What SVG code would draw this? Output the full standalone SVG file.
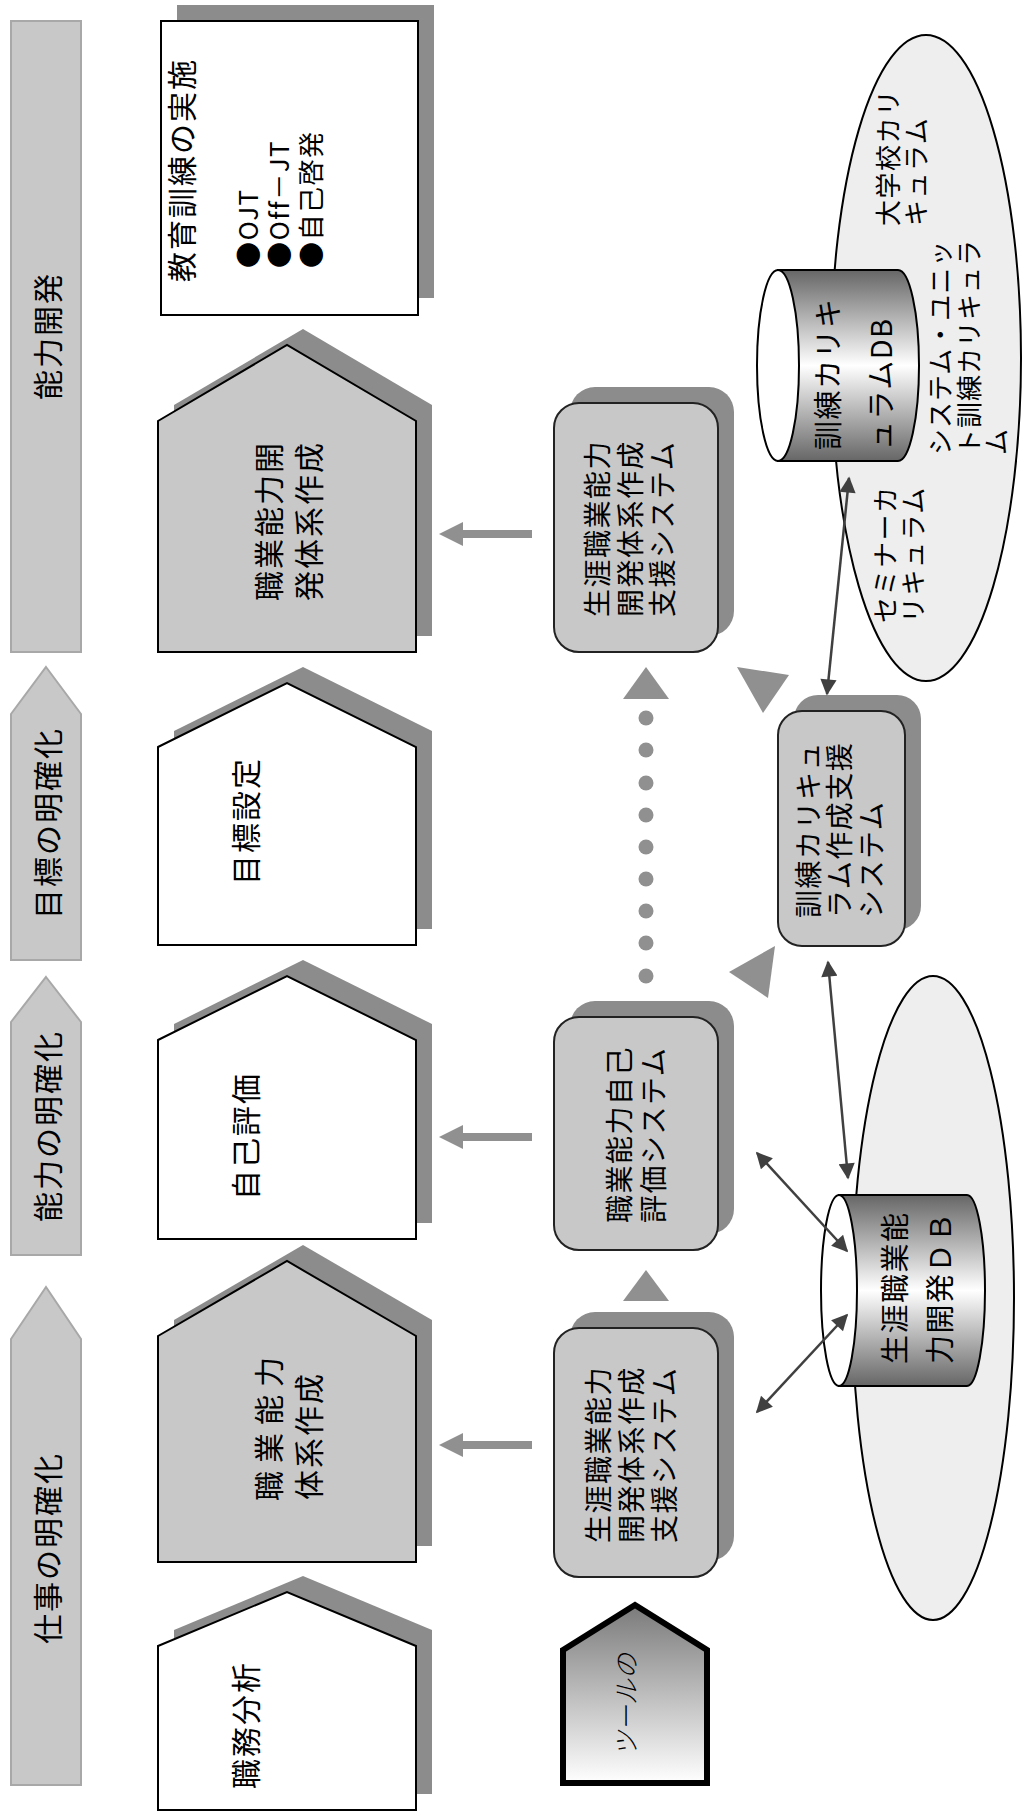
<svg xmlns="http://www.w3.org/2000/svg" width="1022" height="1814" viewBox="0 0 1022 1814">
<defs>
<style>
text{font-family:"Noto Sans CJK JP","Noto Sans",sans-serif;fill:#000;dominant-baseline:central}
.bar{fill:#c8c8c8;stroke:#a8a8a8;stroke-width:2}
.sh{fill:#8c8c8c}
.hw{fill:#ffffff;stroke:#000;stroke-width:2}
.hg{fill:#c8c8c8;stroke:#000;stroke-width:2}
.rb{fill:#c8c8c8;stroke:#222;stroke-width:2}
.t30{font-size:30px;letter-spacing:2px}
.t28{font-size:28px;letter-spacing:1.5px}
.t26{font-size:26px;letter-spacing:1.5px}
.ga{fill:#909090}
.gl{stroke:#909090;stroke-width:8}
.da{stroke:#404040;stroke-width:2.5;fill:none;marker-start:url(#ah);marker-end:url(#ah)}
.ell{fill:#eeeeee;stroke:#000;stroke-width:2}
.cyl{stroke:#000;stroke-width:2}
</style>
<marker id="ah" viewBox="0 0 10 10" refX="9" refY="5" markerWidth="7.5" markerHeight="6.5" orient="auto-start-reverse" markerUnits="strokeWidth">
<path d="M0,0 L10,5 L0,10 Z" fill="#404040"/>
</marker>
<linearGradient id="cg" x1="0" y1="0" x2="0" y2="1">
<stop offset="0" stop-color="#666666"/>
<stop offset="0.5" stop-color="#ffffff"/>
<stop offset="1" stop-color="#666666"/>
</linearGradient>
<linearGradient id="tg" x1="0" y1="0" x2="0" y2="1">
<stop offset="0" stop-color="#7a7a7a"/>
<stop offset="1" stop-color="#ffffff"/>
</linearGradient>
</defs>

<g id="phase-bars">
<g id="bar-nouryokukaihatsu">
<rect class="bar" x="11" y="21" width="70" height="631"/>
<text class="t30" x="46" y="336" text-anchor="middle" transform="rotate(-90 46 336)">能力開発</text>
</g>
<g id="bar-mokuhyou">
<polygon class="bar" points="46,667 81,714 81,960 11,960 11,714"/>
<text class="t30" x="46" y="823" text-anchor="middle" transform="rotate(-90 46 823)">目標の明確化</text>
</g>
<g id="bar-nouryoku">
<polygon class="bar" points="46,977 81,1022 81,1255 11,1255 11,1022"/>
<text class="t30" x="46" y="1126" text-anchor="middle" transform="rotate(-90 46 1126)">能力の明確化</text>
</g>
<g id="bar-shigoto">
<polygon class="bar" points="46,1287 81,1339 81,1785 11,1785 11,1339"/>
<text class="t30" x="46" y="1548" text-anchor="middle" transform="rotate(-90 46 1548)">仕事の明確化</text>
</g>
</g>

<g id="node-kyouiku">
<rect class="sh" x="177" y="5" width="257" height="293"/>
<rect class="hw" x="161" y="21" width="257" height="294"/>
<text class="t30" x="180" y="282" transform="rotate(-90 180 282)">教育訓練の実施</text>
<text class="t26" x="246" y="268" transform="rotate(-90 246 268)">●OJT</text>
<text class="t26" x="277" y="268" transform="rotate(-90 277 268)">●Off－JT</text>
<text class="t26" x="309" y="268" transform="rotate(-90 309 268)">●自己啓発</text>
</g>

<g id="node-taikei-kaihatsu">
<polygon class="sh" points="174,405 303,329 432,405 432,636 174,636"/>
<polygon class="hg" points="158,421 287,345 416,421 416,652 158,652"/>
<text class="t30" x="267" y="601" transform="rotate(-90 267 601)">職業能力開</text>
<text class="t30" x="307" y="601" transform="rotate(-90 307 601)">発体系作成</text>
</g>

<g id="node-mokuhyou">
<polygon class="sh" points="174,731 303,667 432,731 432,929 174,929"/>
<polygon class="hw" points="158,747 287,683 416,747 416,945 158,945"/>
<text class="t30" x="244" y="821" text-anchor="middle" transform="rotate(-90 244 821)">目標設定</text>
</g>

<g id="node-jikohyouka">
<polygon class="sh" points="174,1024 303,960 432,1024 432,1223 174,1223"/>
<polygon class="hw" points="158,1040 287,976 416,1040 416,1239 158,1239"/>
<text class="t30" x="244" y="1136" text-anchor="middle" transform="rotate(-90 244 1136)">自己評価</text>
</g>

<g id="node-taikei">
<polygon class="sh" points="174,1320 303,1245 432,1320 432,1546 174,1546"/>
<polygon class="hg" points="158,1336 287,1261 416,1336 416,1562 158,1562"/>
<text class="t30" x="267" y="1501" transform="rotate(-90 267 1501)" style="letter-spacing:8px">職業能力</text>
<text class="t30" x="307" y="1500" transform="rotate(-90 307 1500)">体系作成</text>
</g>

<g id="node-shokumu">
<polygon class="sh" points="174,1630 303,1576 432,1630 432,1794 174,1794"/>
<polygon class="hw" points="158,1646 287,1592 416,1646 416,1810 158,1810"/>
<text class="t30" x="244" y="1725" text-anchor="middle" transform="rotate(-90 244 1725)">職務分析</text>
</g>

<g id="node-sys-a">
<rect class="sh" x="570" y="387" width="164" height="249" rx="25"/>
<rect class="rb" x="554" y="403" width="164" height="249" rx="25"/>
<text class="t28" x="596" y="617" transform="rotate(-90 596 617)">生涯職業能力</text>
<text class="t28" x="629" y="617" transform="rotate(-90 629 617)">開発体系作成</text>
<text class="t28" x="661" y="617" transform="rotate(-90 661 617)">支援システム</text>
</g>

<g id="node-sys-b">
<rect class="sh" x="570" y="1001" width="164" height="233" rx="25"/>
<rect class="rb" x="554" y="1017" width="164" height="233" rx="25"/>
<text class="t28" x="618" y="1223" transform="rotate(-90 618 1223)">職業能力自己</text>
<text class="t28" x="652" y="1223" transform="rotate(-90 652 1223)">評価システム</text>
</g>

<g id="node-sys-c">
<rect class="sh" x="570" y="1312" width="164" height="249" rx="25"/>
<rect class="rb" x="554" y="1328" width="164" height="249" rx="25"/>
<text class="t28" x="597" y="1543" transform="rotate(-90 597 1543)">生涯職業能力</text>
<text class="t28" x="630" y="1543" transform="rotate(-90 630 1543)">開発体系作成</text>
<text class="t28" x="663" y="1543" transform="rotate(-90 663 1543)">支援システム</text>
</g>

<g id="node-sys-d">
<rect class="sh" x="794" y="695" width="127" height="235" rx="24"/>
<rect class="rb" x="778" y="711" width="127" height="235" rx="24"/>
<text class="t28" x="807" y="918" transform="rotate(-90 807 918)">訓練カリキュ</text>
<text class="t28" x="838" y="918" transform="rotate(-90 838 918)">ラム作成支援</text>
<text class="t28" x="870" y="918" transform="rotate(-90 870 918)">システム</text>
</g>

<g id="node-curriculum-group">
<ellipse class="ell" cx="926" cy="358" rx="95" ry="323"/>
<text class="t26" x="886" y="226" transform="rotate(-90 886 226)">大学校カリ</text>
<text class="t26" x="914" y="226" transform="rotate(-90 914 226)">キュラム</text>
<text class="t26" x="938" y="455" transform="rotate(-90 938 455)" style="letter-spacing:1px">システム・ユニッ</text>
<text class="t26" x="967" y="455" transform="rotate(-90 967 455)" style="letter-spacing:1px">ト訓練カリキュラ</text>
<text class="t26" x="994" y="455" transform="rotate(-90 994 455)">ム</text>
<text class="t26" x="883" y="623" transform="rotate(-90 883 623)">セミナーカ</text>
<text class="t26" x="911" y="623" transform="rotate(-90 911 623)">リキュラム</text>
</g>

<g id="node-kunren-db">
<path class="cyl" fill="url(#cg)" d="M778,270 L898,270 A21,95.5 0 0 1 898,461 L778,461 Z"/>
<ellipse class="cyl" fill="#ffffff" cx="778" cy="365.5" rx="21" ry="95.5"/>
<text class="t28" x="826" y="450" transform="rotate(-90 826 450)" style="font-size:29px">訓練カリキ</text>
<text class="t28" x="879" y="450" transform="rotate(-90 879 450)" style="font-size:29px">ュラムDB</text>
</g>

<g id="node-shougai-group">
<ellipse class="ell" cx="933" cy="1298" rx="81" ry="322"/>
</g>

<g id="node-shougai-db">
<path class="cyl" fill="url(#cg)" d="M839,1195 L967,1195 A18,95.5 0 0 1 967,1386 L839,1386 Z"/>
<ellipse class="cyl" fill="#ffffff" cx="839" cy="1290.5" rx="18" ry="95.5"/>
<text class="t28" x="893" y="1364" transform="rotate(-90 893 1364)" style="font-size:29px">生涯職業能</text>
<text class="t28" x="938" y="1364" transform="rotate(-90 938 1364)" style="font-size:29px">力開発ＤＢ</text>
</g>

<g id="node-tool">
<polygon points="563,1650 635,1605 707,1650 707,1783 563,1783" fill="url(#tg)" stroke="#000" stroke-width="6" stroke-linejoin="miter"/>
<text x="627" y="1705" text-anchor="middle" transform="rotate(-90 627 1705)" style="font-size:26px;font-style:italic;font-weight:300;font-family:'Liberation Serif','Noto Sans CJK JP',serif">ツールの</text>
</g>

<g id="connectors">
<line class="gl" x1="532" y1="534" x2="461" y2="534"/>
<polygon class="ga" points="439,534 463,522 463,546"/>
<line class="gl" x1="532" y1="1137" x2="461" y2="1137"/>
<polygon class="ga" points="439,1137 463,1125 463,1149"/>
<line class="gl" x1="532" y1="1445" x2="461" y2="1445"/>
<polygon class="ga" points="439,1445 463,1433 463,1457"/>

<polygon class="ga" points="646,667 669,699 623,699"/>
<polygon class="ga" points="646,1270 669,1301 623,1301"/>
<g class="ga">
<circle cx="646" cy="718" r="7.5"/>
<circle cx="646" cy="750" r="7.5"/>
<circle cx="646" cy="783" r="7.5"/>
<circle cx="646" cy="815" r="7.5"/>
<circle cx="646" cy="847" r="7.5"/>
<circle cx="646" cy="879" r="7.5"/>
<circle cx="646" cy="911" r="7.5"/>
<circle cx="646" cy="943" r="7.5"/>
<circle cx="646" cy="976" r="7.5"/>
</g>
<polygon class="ga" points="737,667 789,675 763,713"/>
<polygon class="ga" points="729,972 775,946 768,998"/>

<line class="da" x1="849" y1="478" x2="827" y2="694"/>
<line class="da" x1="828" y1="962" x2="848" y2="1178"/>
<line class="da" x1="757" y1="1153" x2="847" y2="1251"/>
<line class="da" x1="757" y1="1412" x2="847" y2="1315"/>
</g>
</svg>
